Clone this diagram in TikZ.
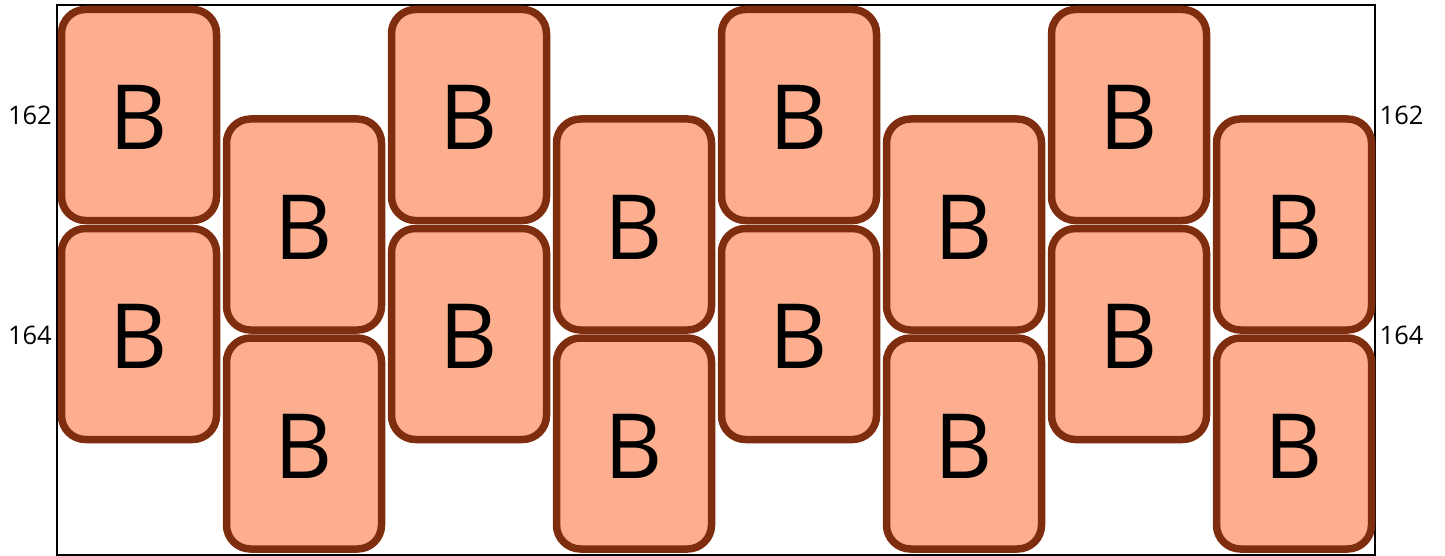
\documentclass[tikz,border=0pt]{standalone}
\usepackage{fontspec}
\setmainfont{Open Sans}
\definecolor{bfill}{RGB}{252,174,143}
\definecolor{bdraw}{RGB}{127,45,15}
\tikzset{
  bbox/.style={draw=bdraw, fill=bfill, line width=7.5pt, rounded corners=24pt,
    minimum width=155pt, minimum height=211pt, inner sep=0pt,
    font=\fontsize{90}{90}\selectfont, text height=69pt, text depth=0pt},
  lab/.style={inner sep=0pt, font=\fontsize{25.5}{26}\selectfont}
}
\begin{document}
\begin{tikzpicture}[x=1pt,y=-1pt]
\useasboundingbox (0,0) rectangle (1445,556);
\draw[line width=2pt] (56.7,5) rectangle (1375,555);
\foreach \i in {0,...,7}{
  \pgfmathsetmacro{\cx}{139+165*\i}
  \ifodd\i
    \node[bbox] (b-\i-1) at (\cx,224.5) {B};
    \node[bbox] (b-\i-2) at (\cx,443.5) {B};
  \else
    \node[bbox] (b-\i-1) at (\cx,115) {B};
    \node[bbox] (b-\i-2) at (\cx,334) {B};
  \fi
}
\node[lab, anchor=east] (l162) at (52,115) {162};
\node[lab, anchor=east] (l164) at (52,335) {164};
\node[lab, anchor=west] (r162) at (1379.5,115) {162};
\node[lab, anchor=west] (r164) at (1379.5,335) {164};
\end{tikzpicture}
\end{document}
